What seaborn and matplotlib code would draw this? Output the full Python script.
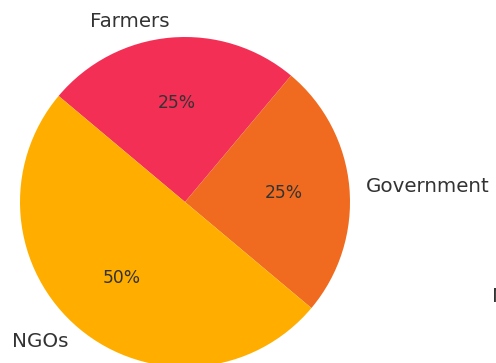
import matplotlib
matplotlib.use("Agg")
import matplotlib.pyplot as plt
import seaborn as sns

sns.set_theme(style="white")
plt.rcParams['font.family'] = ['DejaVu Sans']

categories = ["Farmers", "Government", "NGOs"]
shares = [25, 25, 50]
colors = ["#F42F56", "#F06B1F", "#FFAE00"]

fig = plt.figure(figsize=(4.96, 3.63), dpi=100)
W, H = 496, 363
cx, cy, r = 185, 202, 165
lim = 1.3
half = lim * r
ax = fig.add_axes([(cx - half) / W, (H - cy - half) / H, 2 * half / W, 2 * half / H])

wedges, texts, autotexts = ax.pie(
    shares, labels=categories, colors=colors, autopct="%1.0f%%",
    startangle=140, counterclock=False, labeldistance=1.1, pctdistance=0.6,
    textprops={"color": "#333333"},
    wedgeprops={"edgecolor": "none", "linewidth": 0},
)
for t in texts:
    t.set_fontsize(14.3)
for t in autotexts:
    t.set_fontsize(12.3)
    t.set_color("#333333")
ax.set_xlim(-lim, lim)
ax.set_ylim(-lim, lim)
ax.set_aspect("equal")
ax.axis("off")

fig.text(492 / W, 1 - 297 / H, "N", fontsize=14.3, color="#333333", va="center", ha="left")

fig.savefig("out.png", dpi=100)
